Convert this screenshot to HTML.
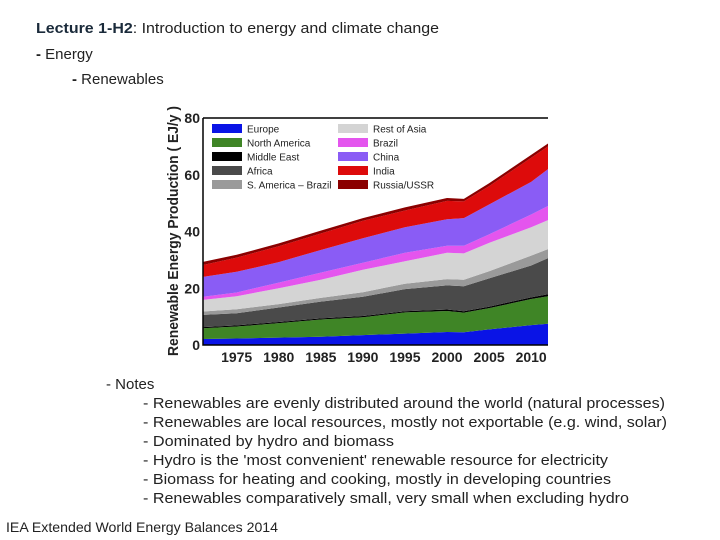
<!DOCTYPE html>
<html><head><meta charset="utf-8"><style>
body{margin:0;background:#fff;}
svg{display:block;font-family:"Liberation Sans",sans-serif;}
</style></head><body>
<svg id="page" width="720" height="540" viewBox="0 0 720 540">
<g fill="#222" font-size="15">
<text x="36" y="33" textLength="403" lengthAdjust="spacingAndGlyphs"><tspan font-weight="bold" fill="#1a2a3a">Lecture 1-H2</tspan>: Introduction to energy and climate change</text>
<text x="36" y="59"><tspan font-weight="bold">-</tspan>  Energy</text>
<text x="72" y="84"><tspan font-weight="bold">-</tspan>  Renewables</text>
</g>
<g id="chart"></g>
<g fill="#222" font-size="15">
<text x="106" y="389">-  Notes</text>
<text x="143" y="408" textLength="522" lengthAdjust="spacingAndGlyphs">-  Renewables are evenly distributed around the world (natural processes)</text>
<text x="143" y="427" textLength="524" lengthAdjust="spacingAndGlyphs">-  Renewables are local resources, mostly not exportable (e.g. wind, solar)</text>
<text x="143" y="446" textLength="251" lengthAdjust="spacingAndGlyphs">-  Dominated by hydro and biomass</text>
<text x="143" y="465" textLength="465" lengthAdjust="spacingAndGlyphs">-  Hydro is the 'most convenient' renewable resource for electricity</text>
<text x="143" y="484" textLength="468" lengthAdjust="spacingAndGlyphs">-  Biomass for heating and cooking, mostly in developing countries</text>
<text x="143" y="503" textLength="486" lengthAdjust="spacingAndGlyphs">-  Renewables comparatively small, very small when excluding hydro</text>
<text x="6" y="532" textLength="272" lengthAdjust="spacingAndGlyphs" font-size="14">IEA Extended World Energy Balances 2014</text>
</g>
</svg>
<script>
const years=[1971,1975,1980,1985,1990,1995,2000,2002,2005,2010,2012];
const seriesNames=["Europe","North America","Middle East","Africa","S. America \u2013 Brazil","Rest of Asia","Brazil","China","India","Russia/USSR"];
const seriesColors=["#0a14e6","#3f8526","#000000","#4a4a4a","#9a9a9a","#d4d4d4","#e455ee","#8a5cf5","#dd0b0b","#8b0000"];
const europe=[2.1,2.3,2.6,2.9,3.5,4.0,4.6,4.5,5.5,7.0,7.5];
const northAmerica=[3.8,4.2,5.1,6.1,6.3,7.5,7.4,6.9,7.5,9.2,9.7];
const middleEast=[0.4,0.4,0.4,0.4,0.4,0.4,0.5,0.5,0.5,0.6,0.7];
const africa=[4.3,4.3,5.1,5.9,6.8,7.8,8.5,8.8,10,11.2,12.7];
const sAmerica=[1.2,1.4,1.2,1.3,1.6,1.9,2.2,2.3,2.5,3.5,3.2];
const restAsia=[4.1,4.6,5.6,6.4,7.9,7.9,9.3,9.3,10,10,10.2];
const brazil=[1.1,1.3,2,2.5,2.5,3,2.5,2.7,3,4.5,5];
const china=[7,7.3,7.2,8,8.6,9,9.3,9.7,10.5,11.5,13];
const india=[4.2,5,5.6,5.8,6.2,5.9,6.5,5.9,6.5,8.5,8];
const russia=[1.1,1,1,1,0.9,1.1,1,0.9,1,1,1];
const yTicks=[0,20,40,60,80];
const xTicks=[1975,1980,1985,1990,1995,2000,2005,2010];

const series=[europe,northAmerica,middleEast,africa,sAmerica,restAsia,brazil,china,india,russia];
const NS="http://www.w3.org/2000/svg";
const g=document.getElementById('chart');
const L=203,R=548,T=118,B=345;
const x=v=>L+(v-1971)/(2012-1971)*(R-L);
const y=v=>B-v/80*(B-T);
function mk(t,a){const e=document.createElementNS(NS,t);for(const k in a)e.setAttribute(k,a[k]);g.appendChild(e);return e;}
let base=years.map(()=>0);
series.forEach((s,i)=>{
  const top=base.map((b,j)=>b+s[j]);
  let d="M"+years.map((yr,j)=>x(yr)+","+y(top[j])).join("L");
  for(let j=years.length-1;j>=0;j--)d+="L"+x(years[j])+","+y(base[j]);
  const p=mk('path',{d:d+"Z",fill:seriesColors[i]});
  
  
  base=top;
});
const frame=mk('path',{d:`M${L},${T}V${B}H${R}M${L},${T}H${R}`,stroke:"#000","stroke-width":1.5,fill:"none"});


yTicks.forEach(v=>{
  const t=mk('text',{x:L-3,y:y(v)+5,"text-anchor":"end","font-size":14,"font-weight":"bold",fill:"#222"});
  t.textContent=v;
  
  
});
xTicks.forEach(v=>{
  const t=mk('text',{x:x(v),y:362,"text-anchor":"middle","font-size":14,"font-weight":"bold",fill:"#222"});
  t.textContent=v;
  
  
});
const yl=mk('text',{x:0,y:0,transform:"translate(178,231) rotate(-90)","text-anchor":"middle","font-size":14.5,"font-weight":"bold",fill:"#222",textLength:250,lengthAdjust:"spacingAndGlyphs"});
yl.textContent="Renewable Energy Production ( EJ/y )";


seriesNames.forEach((n,i)=>{
  const col=i<5?0:1,row=i%5;
  const bx=col?338:212,by=124+row*14;
  const r=mk('rect',{x:bx,y:by,width:30,height:9,fill:seriesColors[i]});
  
  
  const t=mk('text',{x:bx+35,y:by+8.5,"font-size":10,fill:"#222"});
  t.textContent=n;
  
  
});
</script>
</body></html>
